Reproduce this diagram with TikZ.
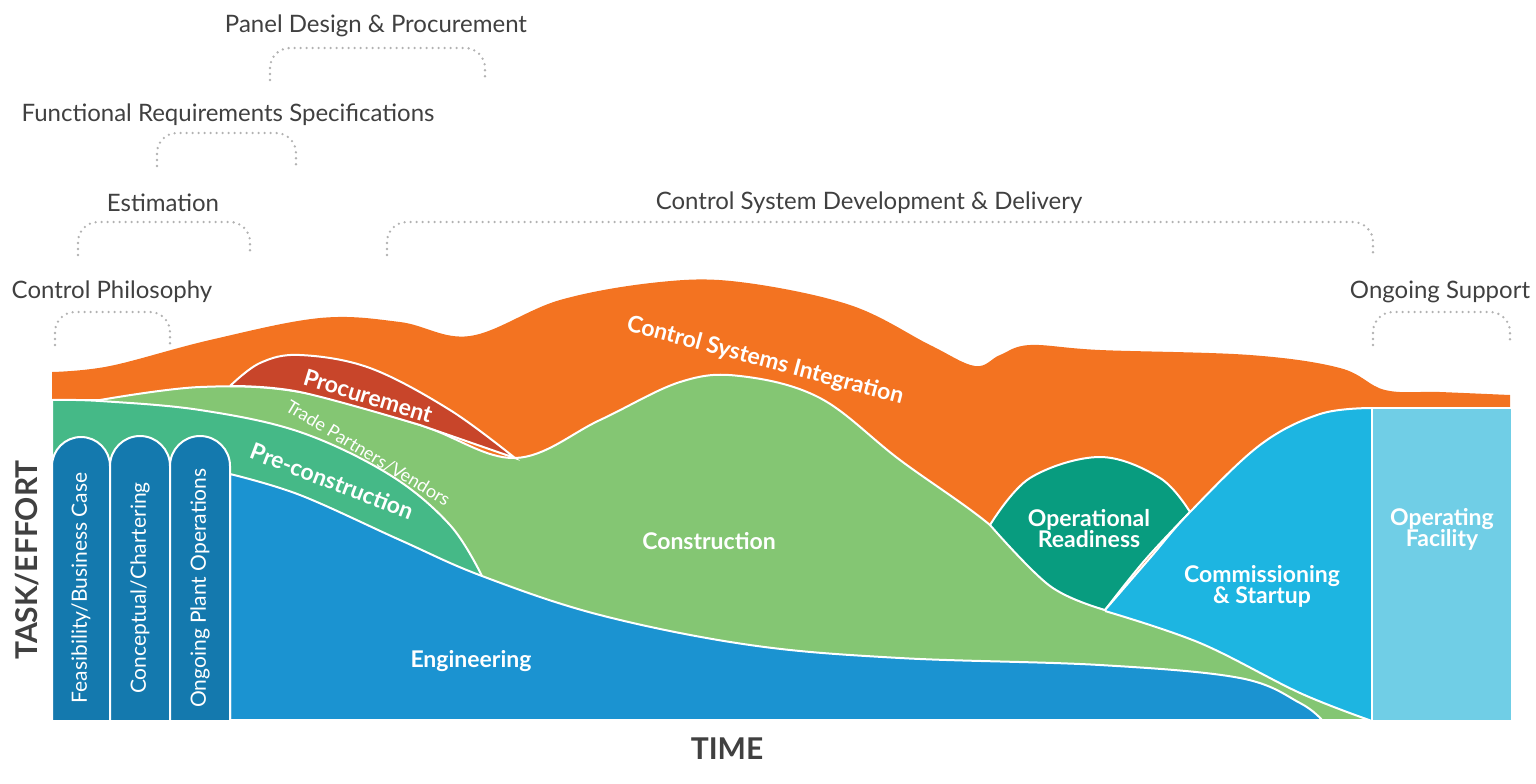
\documentclass[tikz,border=0pt]{standalone}
\usepackage{fontspec}
\setmainfont{Lato}
\definecolor{cOr}{HTML}{F37321}
\definecolor{cPr}{HTML}{C8452A}
\definecolor{cLg}{HTML}{84C673}
\definecolor{cTe}{HTML}{45B987}
\definecolor{cEn}{HTML}{1B93D1}
\definecolor{cCo}{HTML}{1479AE}
\definecolor{cOp}{HTML}{089C7F}
\definecolor{cCm}{HTML}{1DB5E1}
\definecolor{cOf}{HTML}{70CEE6}
\definecolor{cTx}{HTML}{404040}
\begin{document}
\begin{tikzpicture}[x=0.5pt,y=-0.5pt,
  area/.style={draw=white,line width=1pt},
  wl/.style={text=white,font=\bfseries\fontsize{11.5}{12.5}\selectfont,align=center},
  cl/.style={text=white,font=\fontsize{10.5}{12}\selectfont},
  tl/.style={text=cTx,font=\fontsize{12}{14}\selectfont},
  brk/.style={draw=black!30,line width=1.3pt,dash pattern=on 0pt off 3pt,line cap=round,rounded corners=10pt}]
\path[use as bounding box] (0,0) rectangle (1536,783);
% orange
\fill[cOr] (52,720) -- plot[smooth,tension=0.6] coordinates {(52,372)(110,366)(210,340)(320,318)(400,322)(470,336)(560,300)(660,282)(740,282)(850,305)(930,345)(975,366)(1000,355)(1030,345)(1100,350)(1250,355)(1340,368)(1385,390)(1440,392)(1510,395)} -- (1510,720) -- cycle;
% light green
\filldraw[area,fill=cLg] (52,720) -- (52,400) -- plot[smooth,tension=0.6] coordinates {(100,400)(200,387)(300,392)(420,425)(515,458)(600,420)(680,382)(740,376)(820,398)(900,460)(990,525)(1050,585)(1105,610)(1200,640)(1300,690)(1370,720)} -- cycle;
% procurement
\filldraw[area,fill=cPr] plot[smooth,tension=0.6] coordinates {(230,386)(260,363)(300,355)(370,368)(450,410)(515,458)} -- plot[smooth,tension=0.6] coordinates {(420,425)(300,392)(230,386)};
% teal
\filldraw[area,fill=cTe] (52,720) -- (52,400) -- plot[smooth,tension=0.6] coordinates {(52,400)(100,401)(200,410)(300,432)(390,475)(450,525)(482,576)} -- (482,720) -- cycle;
% engineering
\filldraw[area,fill=cEn] (230,720) -- plot[smooth,tension=0.6] coordinates {(230,474)(300,495)(400,540)(482,576)(600,615)(750,645)(900,658)(1100,665)(1240,678)(1300,703)(1322,720)} -- cycle;
% columns
\foreach \a/\b in {52/110,110/170,170/230}{
  \filldraw[area,fill=cCo] (\a,721) -- (\a,466) arc[start angle=180,end angle=360,radius={(\b-\a)/2}] -- (\b,721) -- cycle;}
\node[cl,rotate=90] (fb) at (81,588) {Feasibility/Business Case};
\node[cl,rotate=90] (cc) at (140,588) {Conceptual/Chartering};
\node[cl,rotate=90] (op) at (200,588) {Ongoing Plant Operations};
% operational readiness
\filldraw[area,fill=cOp] plot[smooth,tension=0.6] coordinates {(990,525)(1030,478)(1100,457)(1160,478)(1190,512)} -- plot[smooth,tension=0.6] coordinates {(1190,512)(1145,560)(1105,610)} -- plot[smooth,tension=0.6] coordinates {(1105,610)(1050,586)(990,525)};
% commissioning
\filldraw[area,fill=cCm] plot[smooth,tension=0.6] coordinates {(1105,610)(1150,558)(1190,512)(1260,445)(1320,414)(1372,408)} -- (1372,720) -- plot[smooth,tension=0.6] coordinates {(1372,721)(1300,693)(1200,643)(1105,611)};
% operating facility
\filldraw[area,fill=cOf] (1372,408) rectangle (1512,721);
% labels
\node[wl,rotate=-15] (csi) at (765,361) {Control Systems Integration};
\node[wl,rotate=-17] (pro) at (368,396) {Procurement};
\node[text=white,font=\fontsize{9}{10}\selectfont,rotate=-31] (tpv) at (368,453) {Trade Partners/Vendors};
\node[wl,rotate=-21] (pre) at (332,481) {Pre-construction};
\node[wl] (con) at (709,541) {Construction};
\node[wl] (eng) at (471,661) {Engineering};
\node[wl] (ord) at (1089,529) {Operational\\[-2pt]Readiness};
\node[wl] (com) at (1262,586) {Commissioning\\[-2pt]\& Startup};
\node[wl] (ofa) at (1442,529) {Operating\\[-2pt]Facility};
\node[text=cTx,font=\bfseries\fontsize{15}{17}\selectfont] (time) at (727,749) {TIME};
\node[text=cTx,font=\bfseries\fontsize{15}{17}\selectfont,rotate=90] (task) at (27,560) {TASK/EFFORT};
% brackets
\draw[brk] (55,345) -- (55,312) -- (170,312) -- (170,345);
\draw[brk] (78,255) -- (78,222) -- (250,222) -- (250,255);
\draw[brk] (157,166) -- (157,133) -- (296,133) -- (296,166);
\draw[brk] (270,80) -- (270,48) -- (485,48) -- (485,80);
\draw[brk] (387,255) -- (387,222) -- (1373,222) -- (1373,255);
\draw[brk] (1373,345) -- (1373,312) -- (1510,312) -- (1510,345);
\node[tl] (t1) at (112,292) {Control Philosophy};
\node[tl] (t2) at (163,203) {Estimation};
\node[tl] (t3) at (228,115) {Functional Requirements Specifications};
\node[tl] (t4) at (376,26) {Panel Design \& Procurement};
\node[tl] (t5) at (869,203) {Control System Development \& Delivery};
\node[tl] (t6) at (1440,292) {Ongoing Support};
\end{tikzpicture}
\end{document}
